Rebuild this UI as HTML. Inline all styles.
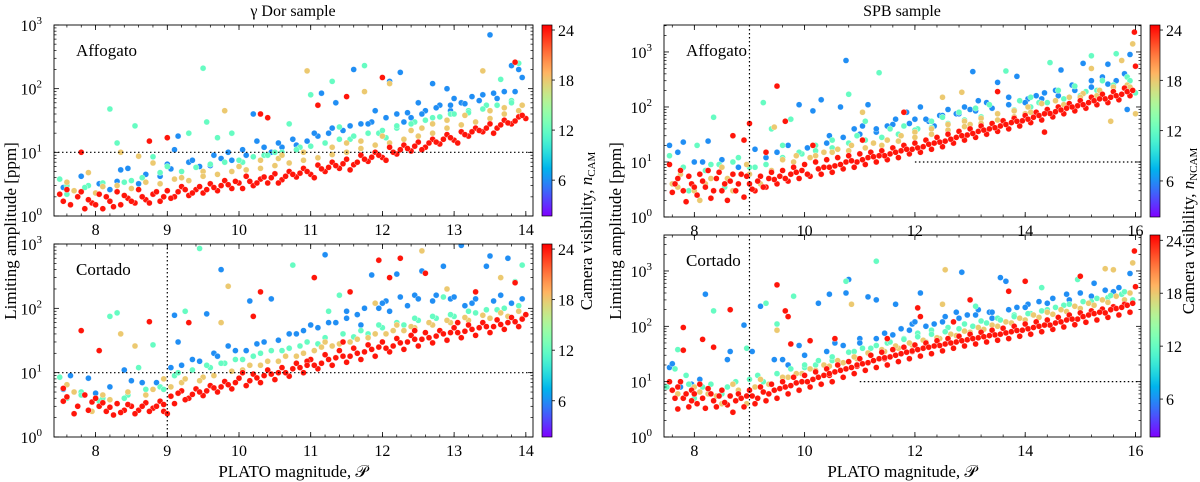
<!DOCTYPE html>
<html><head><meta charset="utf-8">
<style>
html,body{margin:0;padding:0;background:#fff;}
svg{display:block;font-family:"Liberation Serif","DejaVu Serif",serif;}
</style></head>
<body>
<svg id="fig" width="1200" height="482" viewBox="0 0 1200 482" xmlns="http://www.w3.org/2000/svg"></svg>
<script>
// ---- data (magnitude, amplitude [ppm]) grouped by camera visibility ----
const camGroups = [6, 12, 18, 24];
const xTicksGD = [8, 9, 10, 11, 12, 13, 14];
const xTicksSPB = [8, 10, 12, 14, 16];
const yTickExps = [0, 1, 2, 3];
const cbarTicks = [6, 12, 18, 24];

const gdAffBlue = [[7.55,2.8],[7.8,4.2],[8.05,3.2],[8.2,2.6],[8.35,5.3],[8.45,5.6],[8.6,3.2],[8.9,4.2],[9.05,5.5],[9.1,11],[9.15,18],[9.3,7],[9.45,6],[9.6,6.2],[9.75,8],[9.9,7.5],[10.1,9],[10.2,40],[10.25,15],[10.45,10],[10.6,12],[10.8,13],[10.95,15],[11.1,18],[11.25,20],[11.45,22],[11.6,200],[11.7,28],[11.85,30],[11.9,45],[12.1,130],[12.2,40],[12.25,180],[12.4,35],[12.5,60],[12.6,45],[12.7,120],[12.8,55],[12.9,100],[13.0,70],[13.1,60],[13.25,75],[13.4,80],[13.5,700],[13.55,85],[13.7,90],[13.8,230],[13.9,200],[13.95,150],[12.95,45],[12.3,30],[11.35,60],[11.15,85]];
const gdAffBlue2 = [[8.3,3.5],[8.7,4.5],[9.0,6.5],[9.35,7.5],[9.65,9],[9.85,10],[10.05,11],[10.35,12],[10.55,14],[10.75,16],[11.05,20],[11.3,24],[11.55,26],[11.8,28],[12.05,35],[12.35,42],[12.55,40],[12.75,50],[12.95,55],[13.15,58],[13.35,65],[13.6,70],[13.85,90]];
const gdAffGreen = [[7.5,3.8],[7.6,2.2],[7.9,3.0],[8.2,48],[8.3,14],[8.5,3.6],[8.55,26],[8.8,8.5],[9.0,6],[9.3,20],[9.5,210],[9.55,30],[9.7,17],[9.9,20],[10.05,7],[10.35,9],[10.7,28],[10.85,12],[11.0,80],[11.2,14],[11.3,130],[11.55,16],[11.75,230],[11.95,20],[12.2,24],[12.45,30],[12.7,35],[12.95,40],[13.2,45],[13.45,55],[13.65,140],[13.9,250],[13.8,65],[12.05,17],[10.5,10],[11.4,25]];
const gdAffGreen2 = [[7.6,3.0],[7.85,2.8],[8.1,3.3],[8.4,3.4],[8.65,4.0],[8.9,4.8],[9.2,5.0],[9.4,5.8],[9.6,6.5],[9.8,7.0],[10.0,7.5],[10.2,8.5],[10.4,9],[10.6,10],[10.8,11],[11.0,12.5],[11.2,14],[11.4,16],[11.6,18],[11.8,20],[12.0,22],[12.2,26],[12.4,28],[12.6,32],[12.8,36],[13.0,40],[13.2,42],[13.4,48],[13.6,55],[13.8,60]];
const gdAffOrange = [[7.6,3.4],[7.9,4.8],[8.1,2.9],[8.35,10],[8.6,8.7],[8.8,6.8],[9.2,4.0],[9.5,5.0],[9.8,45],[10.0,6.0],[10.3,7.5],[10.55,8],[10.95,190],[10.9,10],[11.3,12],[11.7,15],[11.75,90],[12.0,18],[12.1,120],[12.4,22],[12.7,28],[12.9,32],[13.15,38],[13.4,190],[13.5,45],[13.7,50],[13.95,55],[12.55,24],[11.5,14],[10.6,9]];
const gdAffOrange2 = [[7.7,2.5],[8.0,2.3],[8.3,3.0],[8.5,2.7],[8.7,3.4],[8.9,3.2],[9.1,3.8],[9.3,3.6],[9.5,4.2],[9.7,4.5],[9.9,5.0],[10.1,5.3],[10.3,5.6],[10.5,6.2],[10.7,6.8],[10.9,7.5],[11.1,8.2],[11.3,9.2],[11.5,10],[11.7,11.5],[11.9,13],[12.1,14],[12.3,16],[12.5,18],[12.7,20],[12.9,24],[13.1,27],[13.3,30],[13.5,34],[13.7,40],[13.9,45]];
const gdAffRed = [[7.55,1.7],[7.6,2.6],[7.75,2.0],[7.85,1.3],[7.95,1.6],[8.05,2.2],[8.1,1.3],[8.2,1.7],[8.3,2.4],[8.35,1.5],[8.45,1.9],[8.55,1.6],[8.6,2.6],[8.7,1.8],[8.8,2.2],[8.9,1.7],[9.0,2.5],[9.1,2.0],[9.2,2.9],[9.3,2.1],[9.4,2.6],[9.5,2.3],[9.6,3.2],[9.7,2.5],[9.8,3.6],[9.9,2.7],[10.0,3.3],[10.1,4.2],[10.2,3.0],[10.3,3.8],[10.4,3.3],[10.5,4.6],[10.6,3.7],[10.7,5.0],[10.8,4.1],[10.9,5.6],[11.0,4.5],[11.1,6.3],[11.2,5.0],[11.3,7.0],[11.4,5.6],[11.5,7.8],[11.6,6.4],[11.7,9.0],[11.8,7.2],[11.9,10],[12.0,8.3],[12.1,12],[12.2,9.4],[12.3,13],[12.4,10.5],[12.5,14.5],[12.6,12],[12.7,16],[12.8,13.5],[12.9,19],[13.0,15.5],[13.1,21],[13.2,18],[13.3,24],[13.4,21],[13.5,28],[13.6,24],[13.7,32],[13.8,28],[13.9,36],[14.0,34],[7.8,10],[8.75,15],[9.0,17],[10.3,40],[10.4,35],[11.1,55],[11.5,75],[12.0,150],[13.85,260],[10.05,2.7],[10.55,3.3],[11.05,4.0],[11.55,5.3],[12.05,7.5],[12.55,11],[13.05,14],[13.55,20]];
const gdAffRed2 = [[7.5,2.2],[7.65,1.5],[7.8,2.4],[7.9,1.8],[8.0,1.5],[8.15,2.0],[8.25,1.4],[8.4,2.1],[8.5,1.7],[8.65,2.0],[8.75,1.6],[8.85,2.4],[8.95,2.0],[9.05,1.9],[9.15,2.4],[9.25,2.6],[9.35,2.3],[9.45,2.9],[9.55,2.6],[9.65,2.8],[9.75,3.0],[9.85,3.1],[9.95,3.5],[10.15,3.5],[10.25,3.3],[10.35,4.1],[10.45,4.0],[10.65,4.2],[10.75,4.5],[10.85,4.7],[10.95,5.0],[11.15,5.5],[11.25,5.8],[11.35,6.2],[11.45,6.6],[11.65,7.0],[11.75,7.8],[11.85,8.4],[11.95,9.0],[12.15,10],[12.25,11],[12.35,11.5],[12.45,12.5],[12.65,14],[12.75,14.5],[12.85,16],[12.95,17],[13.15,19],[13.25,21],[13.35,22],[13.45,24],[13.65,27],[13.75,29],[13.85,31],[13.95,38]];

const gdCorBlue = [[7.55,5.5],[7.65,9],[7.9,8.2],[8.0,4.8],[8.2,6],[8.4,11],[8.65,7],[8.85,7],[9.05,12],[9.1,78],[9.15,30],[9.35,16],[9.55,82],[9.65,20],[9.75,400],[9.85,26],[10.1,22],[10.15,130],[10.35,30],[10.45,140],[10.7,40],[10.9,45],[11.1,50],[11.2,680],[11.35,60],[11.5,70],[11.65,80],[11.85,330],[11.95,100],[12.05,130],[12.2,340],[12.35,110],[12.55,380],[12.7,130],[12.85,450],[12.95,140],[13.1,950],[13.25,120],[13.45,450],[13.5,650],[13.65,160],[13.75,600],[13.95,140],[12.45,160],[11.7,55],[12.1,90],[13.15,110]];
const gdCorBlue2 = [[8.5,7.5],[9.2,13],[9.45,15],[9.7,18],[9.95,22],[10.25,28],[10.55,32],[10.8,40],[11.0,55],[11.25,60],[11.5,90],[11.75,100],[12.0,120],[12.25,150],[12.5,140],[12.75,160],[13.0,150],[13.3,140],[13.55,130],[13.8,120]];
const gdCorGreen = [[7.5,8.5],[7.6,4],[7.8,5],[8.05,3.6],[8.2,75],[8.3,85],[8.45,4.5],[8.6,12],[8.8,27],[8.9,6],[9.1,9],[9.25,90],[9.45,850],[9.6,12],[9.8,14],[10.05,16],[10.3,20],[10.6,22],[10.75,470],[10.85,26],[11.1,28],[11.4,160],[11.6,36],[11.8,40],[12.0,50],[12.3,55],[12.5,65],[12.75,70],[13.0,75],[13.3,85],[13.6,95],[13.85,260],[13.95,470],[12.85,150],[11.25,90]];
const gdCorGreen2 = [[7.8,4.5],[8.1,4],[8.4,4],[8.7,5.5],[8.95,5.5],[9.15,10],[9.35,11],[9.55,13],[9.75,14],[9.95,16],[10.2,18],[10.45,22],[10.7,24],[10.95,30],[11.2,35],[11.45,40],[11.7,45],[11.95,55],[12.2,60],[12.45,70],[12.7,75],[12.95,80],[13.2,90],[13.45,95],[13.7,100],[13.9,110]];
const gdCorOrange = [[7.6,6.5],[7.95,2.5],[8.1,4.5],[8.35,40],[8.55,26],[8.8,5.5],[8.95,8],[9.2,7],[9.5,8.5],[9.75,60],[9.85,220],[10.05,11],[10.3,13],[10.55,15],[10.8,18],[11.05,22],[11.3,26],[11.55,30],[11.8,35],[12.05,40],[12.3,45],[12.55,780],[12.45,50],[12.7,55],[12.95,60],[13.2,65],[13.5,70],[13.65,300],[13.75,75],[13.95,70],[11.9,120],[12.9,200]];
const gdCorOrange2 = [[7.7,5],[8.2,3.8],[8.45,5],[8.7,4.5],[9.05,6],[9.25,8],[9.45,7.5],[9.65,9],[9.9,10.5],[10.15,13],[10.4,15],[10.65,18],[10.9,20],[11.15,25],[11.4,28],[11.65,33],[11.9,40],[12.15,45],[12.4,52],[12.65,60],[12.9,65],[13.15,72],[13.4,78],[13.65,85],[13.9,90],[12.2,55],[11.2,30]];
const gdCorRed = [[7.55,5.7],[7.55,3.6],[7.7,2.3],[7.85,4.5],[7.95,3.5],[8.05,3.0],[8.15,2.5],[8.25,2.2],[8.3,3.3],[8.4,2.6],[8.5,3.0],[8.6,2.6],[8.7,3.4],[8.8,2.8],[8.9,3.6],[8.95,2.5],[9.05,4.3],[9.1,3.3],[9.2,5.2],[9.3,4.0],[9.4,5.6],[9.5,4.4],[9.6,6.3],[9.7,5.0],[9.8,7.3],[9.9,5.6],[10.0,8.2],[10.1,6.3],[10.2,9.5],[10.3,7.0],[10.4,11],[10.5,7.8],[10.6,12],[10.7,8.8],[10.8,14],[10.9,10],[11.0,16],[11.1,11.5],[11.2,19],[11.3,13],[11.4,22],[11.5,14.5],[11.6,24],[11.7,16],[11.8,27],[11.9,18],[12.0,30],[12.1,21],[12.2,34],[12.3,23],[12.4,38],[12.5,26],[12.6,42],[12.7,29],[12.8,45],[12.9,32],[13.0,50],[13.1,35],[13.2,55],[13.3,38],[13.4,60],[13.5,42],[13.6,66],[13.7,47],[13.8,72],[13.9,52],[14.0,80],[7.8,45],[8.05,22],[8.75,62],[9.3,60],[10.3,180],[10.2,75],[11.05,300],[11.55,180],[11.95,560],[12.25,600],[12.6,350],[13.85,250],[13.3,180],[12.1,300],[10.95,15],[11.45,30],[12.45,45],[13.05,60],[10.05,10],[10.55,10],[11.05,13],[11.55,18],[12.05,24],[12.55,33],[13.05,42],[13.55,52]];
const gdCorRed2 = [[7.6,4.2],[7.75,3.0],[7.9,2.6],[8.0,4.0],[8.1,3.4],[8.2,2.9],[8.35,2.4],[8.45,3.2],[8.55,2.3],[8.65,3.0],[8.75,2.5],[8.85,3.0],[8.95,3.2],[9.0,2.3],[9.15,4.8],[9.25,3.8],[9.35,4.6],[9.45,5.0],[9.55,5.2],[9.65,5.8],[9.75,6.0],[9.85,6.5],[9.95,7],[10.15,7.5],[10.25,8.3],[10.35,9],[10.45,9.5],[10.65,10],[10.75,11.5],[10.85,12],[10.95,13],[11.15,14],[11.25,16],[11.35,17],[11.45,18],[11.65,20],[11.75,21],[11.85,23],[11.95,25],[12.15,26],[12.25,29],[12.35,30],[12.45,33],[12.65,35],[12.75,37],[12.85,40],[12.95,42],[13.15,44],[13.25,47],[13.35,50],[13.45,52],[13.65,56],[13.75,60],[13.85,62],[13.95,68]];

const spbAffBlue = [[7.55,20],[7.7,15],[7.8,23],[8.0,10],[8.15,10],[8.25,24],[8.5,11],[8.8,8],[9.1,17],[9.3,12],[9.5,15],[9.7,20],[9.9,110],[10.05,18],[10.15,85],[10.3,135],[10.45,30],[10.65,100],[10.75,700],[10.9,40],[11.05,45],[11.15,110],[11.3,35],[11.5,45],[11.65,60],[11.85,80],[12.0,60],[12.1,100],[12.25,55],[12.45,70],[12.6,90],[12.75,75],[12.9,100],[13.05,440],[13.15,130],[13.3,120],[13.5,280],[13.7,150],[13.85,360],[14.05,140],[14.2,160],[14.35,180],[14.55,200],[14.65,470],[14.85,250],[15.05,620],[15.2,300],[15.4,350],[15.5,600],[15.65,300],[15.8,400],[15.9,900],[15.85,90],[13.0,90],[12.35,45]];
const spbAffBlue2 = [[10.4,22],[10.7,28],[11.0,32],[11.3,40],[11.6,48],[11.9,50],[12.2,60],[12.5,70],[12.8,75],[13.1,85],[13.4,95],[13.7,110],[14.0,120],[14.3,140],[14.6,160],[14.9,200],[15.2,230],[15.5,260]];
const spbAffGreen = [[7.55,13],[7.65,4],[7.75,7],[7.9,3],[8.05,20],[8.2,7],[8.35,65],[8.45,9],[8.55,3.5],[8.8,12],[9.1,8],[9.25,120],[9.4,40],[9.6,20],[9.75,60],[9.95,14],[10.2,20],[10.5,25],[10.8,170],[10.95,30],[11.1,55],[11.35,420],[11.55,40],[11.8,45],[12.05,40],[12.3,55],[12.5,65],[12.8,80],[13.1,95],[13.35,110],[13.65,450],[13.9,130],[14.1,150],[14.45,640],[14.6,200],[14.9,240],[15.2,850],[15.4,300],[15.65,930],[15.85,350],[16.0,180],[14.25,120],[15.1,190]];
const spbAffGreen2 = [[7.8,8],[8.3,9],[8.7,10],[9.0,8],[9.3,9],[9.6,12],[9.9,15],[10.2,16],[10.5,18],[10.8,22],[11.1,25],[11.4,28],[11.7,32],[12.0,38],[12.3,42],[12.6,50],[12.9,58],[13.2,66],[13.5,75],[13.8,88],[14.1,100],[14.4,120],[14.7,140],[15.0,160],[15.3,200],[15.6,250],[15.9,300]];
const spbAffOrange = [[7.6,4],[7.75,6],[8.0,3],[8.1,2],[8.3,5],[8.5,8],[8.7,3],[8.95,9],[9.2,4],[9.45,43],[9.6,11],[9.85,13],[10.1,12],[10.35,15],[10.6,17],[10.85,20],[11.05,80],[11.25,22],[11.5,25],[11.75,30],[12.0,35],[12.3,40],[12.5,150],[12.6,48],[12.85,185],[12.9,55],[13.2,62],[13.5,75],[13.8,85],[14.05,100],[14.3,115],[14.55,130],[14.8,150],[15.05,175],[15.2,500],[15.35,200],[15.55,55],[15.6,230],[15.85,250],[15.95,1400],[16.0,75],[15.75,700]];
const spbAffOrange2 = [[7.7,3.5],[8.2,4],[8.6,5],[9.0,6],[9.4,7],[9.8,10],[10.2,13],[10.5,15],[10.8,16],[11.1,18],[11.4,20],[11.7,24],[12.0,28],[12.3,32],[12.6,38],[12.9,44],[13.2,50],[13.5,58],[13.8,66],[14.1,80],[14.4,90],[14.7,110],[15.0,130],[15.3,160],[15.6,190],[15.9,230],[13.0,48],[14.0,75],[15.0,150]];
const spbAffRed = [[7.55,9],[7.6,2.8],[7.7,5],[7.8,3.0],[7.85,1.9],[7.95,4],[8.05,2.5],[8.1,6],[8.2,3.5],[8.3,2.2],[8.4,5],[8.5,3],[8.6,2.0],[8.65,4.5],[8.75,3],[8.85,6],[8.9,2.3],[9.0,4],[9.1,3],[9.2,5.5],[9.3,3.5],[9.4,6.5],[9.5,4],[9.6,7],[9.7,4.5],[9.8,8],[9.9,5],[10.0,9],[10.1,5.5],[10.2,10],[10.3,6],[10.4,11],[10.5,6.5],[10.6,12],[10.7,7.5],[10.8,13],[10.9,8],[11.0,14],[11.1,9],[11.2,15],[11.3,10],[11.4,16],[11.5,11],[11.6,18],[11.7,12],[11.8,20],[11.9,14],[12.0,22],[12.1,15],[12.2,25],[12.3,17],[12.4,28],[12.5,19],[12.6,32],[12.7,22],[12.8,36],[12.9,25],[13.0,40],[13.1,28],[13.2,45],[13.3,32],[13.4,50],[13.5,36],[13.6,56],[13.7,40],[13.8,62],[13.9,45],[14.0,70],[14.1,52],[14.2,80],[14.3,58],[14.4,90],[14.5,66],[14.6,100],[14.7,75],[14.8,115],[14.9,85],[15.0,130],[15.1,95],[15.2,150],[15.3,110],[15.4,170],[15.5,120],[15.6,190],[15.7,135],[15.8,220],[15.9,160],[16.0,550],[15.98,2300],[8.7,30],[8.9,25],[9.0,50],[9.5,240],[9.65,55],[11.8,80],[13.5,190],[14.35,35],[9.3,15],[10.15,20],[11.05,25],[10.45,8],[10.95,10],[11.45,13],[11.95,17],[12.45,23],[12.95,31],[13.45,42],[13.95,56],[14.45,76],[14.95,105],[15.45,140]];
const spbAffRed2 = [[7.65,4],[7.75,7],[7.9,5.5],[8.0,3.5],[8.15,4.5],[8.25,7],[8.35,3],[8.45,6.5],[8.55,4],[8.7,6],[8.8,4],[8.95,5.5],[9.05,3.2],[9.15,4.5],[9.25,3.5],[9.35,5],[9.45,4.8],[9.55,5.5],[9.65,5],[9.75,6],[9.85,6.5],[9.95,7],[10.05,6],[10.25,7.5],[10.35,8],[10.55,8.5],[10.65,9],[10.75,10],[10.85,10.5],[11.05,11],[11.15,12],[11.25,12.5],[11.35,13],[11.55,14],[11.65,15],[11.75,16],[11.85,17],[12.05,18],[12.15,19],[12.25,21],[12.35,22],[12.55,24],[12.65,26],[12.75,28],[12.85,30],[13.05,33],[13.15,36],[13.25,38],[13.35,40],[13.55,45],[13.65,48],[13.75,52],[13.85,55],[14.05,60],[14.15,65],[14.25,70],[14.35,75],[14.55,82],[14.65,88],[14.75,95],[14.85,100],[15.05,110],[15.15,120],[15.25,130],[15.35,140],[15.55,150],[15.65,160],[15.75,170],[15.85,190],[15.95,200]];

const spbCorBlue = [[7.55,18],[7.6,21],[7.75,8],[7.95,9],[8.2,380],[8.1,11],[8.6,25],[8.65,35],[8.9,105],[9.05,35],[9.2,230],[9.45,25],[9.7,20],[9.9,45],[10.25,260],[10.45,380],[10.55,50],[10.8,700],[10.75,400],[11.0,60],[11.15,340],[11.3,300],[11.45,75],[11.65,250],[11.75,90],[11.95,110],[12.1,400],[12.35,110],[12.55,150],[12.75,180],[12.85,950],[12.95,160],[13.15,200],[13.35,180],[13.55,760],[13.65,650],[13.85,220],[14.05,250],[14.25,280],[14.5,320],[14.75,380],[15.0,400],[15.25,600],[15.45,450],[15.7,500],[15.9,900],[12.0,120],[13.4,140]];
const spbCorBlue2 = [[9.6,25],[10.0,30],[10.4,35],[10.7,45],[11.0,50],[11.3,60],[11.6,70],[11.9,85],[12.2,100],[12.5,120],[12.8,140],[13.1,160],[13.4,180],[13.7,200],[14.0,220],[14.4,260],[14.8,300],[15.2,350],[15.6,420]];
const spbCorGreen = [[7.5,8],[7.65,17],[7.7,38],[7.85,13],[8.0,5],[8.15,8],[8.35,190],[8.5,6],[8.75,10],[8.95,40],[9.15,13],[9.3,260],[9.5,110],[9.8,350],[10.0,18],[10.2,20],[10.5,24],[10.75,650],[10.9,35],[11.3,1500],[11.2,40],[11.5,50],[11.8,60],[12.05,75],[12.3,85],[12.6,95],[12.9,110],[13.2,125],[13.5,140],[13.8,160],[14.1,170],[14.4,200],[14.7,240],[14.95,700],[15.2,280],[15.5,330],[15.75,380],[15.95,300],[14.3,500],[13.1,230]];
const spbCorGreen2 = [[7.9,9],[8.3,9],[8.6,8],[9.0,11],[9.25,10],[9.5,14],[9.75,17],[10.0,20],[10.25,24],[10.5,28],[10.8,34],[11.05,40],[11.3,45],[11.55,52],[11.8,58],[12.05,65],[12.3,72],[12.55,80],[12.8,90],[13.05,100],[13.3,115],[13.55,130],[13.8,150],[14.05,170],[14.3,190],[14.55,220],[14.8,250],[15.05,280],[15.3,320],[15.55,360],[15.8,420]];
const spbCorOrange = [[7.6,7],[7.8,5],[8.0,8],[8.25,6],[8.5,4],[8.7,9],[8.95,4],[9.2,11],[9.5,85],[9.7,12],[9.95,14],[10.2,16],[10.45,19],[10.7,22],[10.85,250],[10.95,26],[11.2,30],[11.45,35],[11.7,40],[11.95,46],[12.2,52],[12.5,250],[12.55,1050],[12.45,60],[12.75,68],[13.0,78],[13.25,88],[13.5,100],[13.75,115],[14.0,130],[14.25,145],[14.5,165],[14.75,185],[15.0,210],[15.25,240],[15.45,1100],[15.6,1050],[15.8,300],[15.95,1400],[15.5,270]];
const spbCorOrange2 = [[7.7,6],[8.1,6.5],[8.4,5.5],[8.8,7],[9.1,8],[9.35,9],[9.6,12],[9.85,14],[10.1,17],[10.35,20],[10.6,24],[10.9,28],[11.15,33],[11.4,38],[11.65,44],[11.9,50],[12.15,56],[12.4,62],[12.65,72],[12.9,82],[13.15,95],[13.4,105],[13.65,120],[13.9,140],[14.15,160],[14.4,180],[14.65,200],[14.9,230],[15.15,260],[15.4,300],[15.65,350],[15.9,400]];
const spbCorRed = [[7.55,10],[7.6,7],[7.7,3.2],[7.75,10],[7.8,5],[7.9,3.5],[7.95,7],[8.05,4],[8.1,9],[8.2,3.3],[8.3,6],[8.4,3.5],[8.5,7],[8.6,3.8],[8.65,5.5],[8.7,2.8],[8.8,6],[8.9,3.5],[9.0,7],[9.1,4],[9.2,8],[9.3,4.5],[9.4,9],[9.5,5],[9.6,10],[9.7,6],[9.8,12],[9.9,7],[10.0,13],[10.1,8],[10.2,15],[10.3,9],[10.4,17],[10.5,10],[10.6,20],[10.7,12],[10.8,23],[10.9,14],[11.0,26],[11.1,16],[11.2,30],[11.3,18],[11.4,34],[11.5,20],[11.6,38],[11.7,23],[11.8,42],[11.9,26],[12.0,46],[12.1,29],[12.2,50],[12.3,32],[12.4,55],[12.5,36],[12.6,60],[12.7,40],[12.8,66],[12.9,44],[13.0,72],[13.1,48],[13.2,78],[13.3,52],[13.4,85],[13.5,56],[13.6,92],[13.7,60],[13.8,100],[13.9,66],[14.0,110],[14.1,72],[14.2,120],[14.3,80],[14.4,130],[14.5,88],[14.6,145],[14.7,97],[14.8,160],[14.9,107],[15.0,175],[15.1,118],[15.2,190],[15.3,130],[15.4,205],[15.5,145],[15.6,225],[15.7,160],[15.8,250],[15.9,180],[16.0,520],[15.98,2300],[7.8,95],[7.8,37],[8.15,58],[8.35,42],[8.65,200],[9.5,560],[9.65,190],[9.7,150],[9.75,48],[10.1,55],[10.55,60],[12.05,215],[12.1,150],[13.0,300],[13.7,430],[14.0,650],[15.0,800],[11.5,60],[12.7,120],[10.45,13],[10.95,19],[11.45,26],[11.95,35],[12.45,45],[12.95,57],[13.45,70],[13.95,85],[14.45,105],[14.95,135],[15.45,175]];
const spbCorRed2 = [[7.65,5],[7.7,8],[7.85,6],[7.95,4.5],[8.0,6],[8.15,5],[8.25,7.5],[8.35,4.5],[8.45,5.5],[8.55,4.2],[8.75,4.5],[8.85,5],[8.95,5.5],[9.05,5.5],[9.15,5],[9.25,6.5],[9.35,6],[9.45,7],[9.55,7.5],[9.65,8],[9.75,8.5],[9.85,9.5],[9.95,10],[10.05,10],[10.15,11],[10.25,12],[10.35,13],[10.45,14],[10.55,15],[10.65,16],[10.75,17],[10.85,18],[10.95,20],[11.05,21],[11.15,22],[11.25,24],[11.35,26],[11.45,27],[11.55,28],[11.65,30],[11.75,32],[11.85,34],[11.95,36],[12.05,38],[12.15,40],[12.25,42],[12.35,44],[12.55,48],[12.65,50],[12.75,52],[12.85,55],[13.05,60],[13.15,62],[13.25,65],[13.35,68],[13.55,72],[13.65,76],[13.75,80],[13.85,84],[14.05,90],[14.15,95],[14.25,100],[14.35,105],[14.55,115],[14.65,120],[14.75,130],[14.85,135],[15.05,150],[15.15,160],[15.25,170],[15.35,180],[15.55,200],[15.65,210],[15.75,220],[15.85,240],[15.95,260]];

// ---- rendering ----
const NS = "http://www.w3.org/2000/svg";
const svg = document.getElementById("fig");
function mk(tag, attrs, parent) {
  const e = document.createElementNS(NS, tag);
  for (const k in attrs) e.setAttribute(k, attrs[k]);
  (parent || svg).appendChild(e);
  return e;
}
const VMIN = 1.7, VMAX = 24.6;
function rainbow(t) {
  t = Math.max(0, Math.min(1, t));
  const r = Math.min(1, Math.abs(2 * t - 0.5));
  const g = Math.sin(Math.PI * t);
  const b = Math.cos(Math.PI * t / 2);
  return "rgb(" + Math.round(r * 255) + "," + Math.round(g * 255) + "," + Math.round(b * 255) + ")";
}
function camColor(c) { return rainbow((c - VMIN) / (VMAX - VMIN)); }

function drawPanel(p) {
  const g = mk("g", {});
  
  
  const X = v => p.x0 + (v - p.xmin) / (p.xmax - p.xmin) * (p.x1 - p.x0);
  const Y = v => p.y1 - (Math.log10(v) - p.ymin) / (p.ymax - p.ymin) * (p.y1 - p.y0);
  const clip = mk("clipPath", { id: "clip-" + p.name }, g);
  mk("rect", { x: p.x0, y: p.y0, width: p.x1 - p.x0, height: p.y1 - p.y0 }, clip);
  const pts = mk("g", { "clip-path": "url(#clip-" + p.name + ")" }, g);
  
  
  p.groups.forEach((arr, gi) => {
    const col = camColor(camGroups[gi]);
    arr.forEach(d => {
      const c = mk("circle", { cx: X(d[0]).toFixed(1), cy: Y(d[1]).toFixed(1), r: 3.0, fill: col, stroke: "#fff", "stroke-width": 0.35 }, pts);
      
      
    });
  });
  p.hlines.forEach(h => {
    const l = mk("line", { x1: X(h.from), x2: X(h.to), y1: Y(h.v), y2: Y(h.v), stroke: "#000", "stroke-width": 1.2, "stroke-dasharray": "1.5,2.5" }, g);
    
    
  });
  p.vlines.forEach(v => {
    const l = mk("line", { x1: X(v), x2: X(v), y1: p.y0, y2: p.y1, stroke: "#000", "stroke-width": 1.2, "stroke-dasharray": "1.5,2.5" }, g);
    
    
  });
  const fr = mk("rect", { x: p.x0, y: p.y0, width: p.x1 - p.x0, height: p.y1 - p.y0, fill: "none", stroke: "#000", "stroke-width": 0.9 }, g);
  
  
  const xt = mk("g", {}, g);
  
  
  for (let m = Math.ceil(p.xmin * 5) / 5; m <= p.xmax + 1e-6; m += p.minorX) {
    const x = X(m);
    mk("line", { x1: x, x2: x, y1: p.y1, y2: p.y1 - 2.5, stroke: "#000", "stroke-width": 0.7 }, xt);
    mk("line", { x1: x, x2: x, y1: p.y0, y2: p.y0 + 2.5, stroke: "#000", "stroke-width": 0.7 }, xt);
  }
  p.xticks.forEach(t => {
    const x = X(t);
    mk("line", { x1: x, x2: x, y1: p.y1, y2: p.y1 - 5, stroke: "#000", "stroke-width": 0.8 }, xt);
    mk("line", { x1: x, x2: x, y1: p.y0, y2: p.y0 + 5, stroke: "#000", "stroke-width": 0.8 }, xt);
    const tx = mk("text", { x: x, y: p.y1 + 19, "font-size": 16, "text-anchor": "middle" }, xt);
    tx.textContent = t;
    
    
  });
  const yt = mk("g", {}, g);
  
  
  for (let e = 0; e < 4; e++) for (let k = 2; k <= 9; k++) {
    const v = k * Math.pow(10, e);
    if (Math.log10(v) > p.ymax) continue;
    const y = Y(v);
    mk("line", { x1: p.x0, x2: p.x0 + 2.5, y1: y, y2: y, stroke: "#000", "stroke-width": 0.7 }, yt);
    mk("line", { x1: p.x1, x2: p.x1 - 2.5, y1: y, y2: y, stroke: "#000", "stroke-width": 0.7 }, yt);
  }
  yTickExps.forEach(e => {
    const y = Y(Math.pow(10, e));
    mk("line", { x1: p.x0, x2: p.x0 + 5, y1: y, y2: y, stroke: "#000", "stroke-width": 0.8 }, yt);
    mk("line", { x1: p.x1, x2: p.x1 - 5, y1: y, y2: y, stroke: "#000", "stroke-width": 0.8 }, yt);
    const tx = mk("text", { x: p.x0 - 12, y: y + 6, "font-size": 16, "text-anchor": "end" }, yt);
    tx.textContent = "10";
    const sup = mk("tspan", { dy: -7, "font-size": 11 }, tx);
    sup.textContent = e;
    
    
  });
  const lb = mk("text", { x: p.x0 + 22, y: p.y0 + 31, "font-size": 17 }, g);
  lb.textContent = p.label;
  
  
  const cb = mk("g", {}, g);
  
  
  const gid = "grad-" + p.name;
  const lg = mk("linearGradient", { id: gid, x1: 0, y1: 1, x2: 0, y2: 0 }, cb);
  for (let i = 0; i <= 20; i++) mk("stop", { offset: i / 20, "stop-color": rainbow(i / 20) }, lg);
  mk("rect", { x: p.cbx, y: p.y0, width: 10, height: p.y1 - p.y0, fill: "url(#" + gid + ")", stroke: "#000", "stroke-width": 0.7 }, cb);
  cbarTicks.forEach(t => {
    const y = p.y1 - (t - VMIN) / (VMAX - VMIN) * (p.y1 - p.y0);
    mk("line", { x1: p.cbx + 10, x2: p.cbx + 13, y1: y, y2: y, stroke: "#000", "stroke-width": 0.8 }, cb);
    const tx = mk("text", { x: p.cbx + 16, y: y + 6, "font-size": 16 }, cb);
    tx.textContent = t;
    
    
  });
}

const panels = [
  { name: "gdor-affogato-panel", label: "Affogato", x0: 54, x1: 533, y0: 25, y1: 216, xmin: 7.42, xmax: 14.1, ymin: 0, ymax: 3, xticks: xTicksGD, minorX: 0.2, cbx: 542,
    groups: [gdAffBlue.concat(gdAffBlue2), gdAffGreen.concat(gdAffGreen2), gdAffOrange.concat(gdAffOrange2), gdAffRed.concat(gdAffRed2)], hlines: [{ v: 10, from: 7.42, to: 14.1 }], vlines: [] },
  { name: "gdor-cortado-panel", label: "Cortado", x0: 54, x1: 533, y0: 244, y1: 437, xmin: 7.42, xmax: 14.1, ymin: 0, ymax: 3, xticks: xTicksGD, minorX: 0.2, cbx: 542,
    groups: [gdCorBlue.concat(gdCorBlue2), gdCorGreen.concat(gdCorGreen2), gdCorOrange.concat(gdCorOrange2), gdCorRed.concat(gdCorRed2)], hlines: [{ v: 10, from: 7.42, to: 14.1 }], vlines: [9] },
  { name: "spb-affogato-panel", label: "Affogato", x0: 664, x1: 1141, y0: 25, y1: 217, xmin: 7.45, xmax: 16.1, ymin: 0, ymax: 3.49, xticks: xTicksSPB, minorX: 0.4, cbx: 1150,
    groups: [spbAffBlue.concat(spbAffBlue2), spbAffGreen.concat(spbAffGreen2), spbAffOrange.concat(spbAffOrange2), spbAffRed.concat(spbAffRed2)], hlines: [{ v: 10, from: 12, to: 16.1 }], vlines: [9] },
  { name: "spb-cortado-panel", label: "Cortado", x0: 664, x1: 1141, y0: 235, y1: 437, xmin: 7.45, xmax: 16.1, ymin: 0, ymax: 3.65, xticks: xTicksSPB, minorX: 0.4, cbx: 1150,
    groups: [spbCorBlue.concat(spbCorBlue2), spbCorGreen.concat(spbCorGreen2), spbCorOrange.concat(spbCorOrange2), spbCorRed.concat(spbCorRed2)], hlines: [{ v: 10, from: 11, to: 16.1 }], vlines: [9] }
];
panels.forEach(drawPanel);

function text(str, x, y, size, name, rot) {
  const t = mk("text", { x: x, y: y, "font-size": size, "text-anchor": "middle" });
  if (rot) t.setAttribute("transform", "rotate(-90 " + x + " " + y + ")");
  t.textContent = str;
  
  
  return t;
}
text("γ Dor sample", 293, 16, 16, "left-title");
text("SPB sample", 902, 16, 16, "right-title");
text("PLATO magnitude, 𝒫", 293, 477, 17, "left-x-axis-title");
text("PLATO magnitude, 𝒫", 902, 477, 17, "right-x-axis-title");
text("Limiting amplitude [ppm]", 16, 231, 17, "left-y-axis-title", true);
text("Limiting amplitude [ppm]", 621, 231, 17, "right-y-axis-title", true);
const c1 = text("Camera visibility, ", 592, 231, 17, "left-colorbar-title", true);
const s1 = mk("tspan", { "font-style": "italic" }, c1); s1.textContent = "n";
const s1b = mk("tspan", { "font-size": 11, dy: 3 }, c1); s1b.textContent = "CAM";
const c2 = text("Camera visibility, ", 1194, 231, 17, "right-colorbar-title", true);
const s2 = mk("tspan", { "font-style": "italic" }, c2); s2.textContent = "n";
const s2b = mk("tspan", { "font-size": 11, dy: 3 }, c2); s2b.textContent = "NCAM";
</script>
</body></html>
